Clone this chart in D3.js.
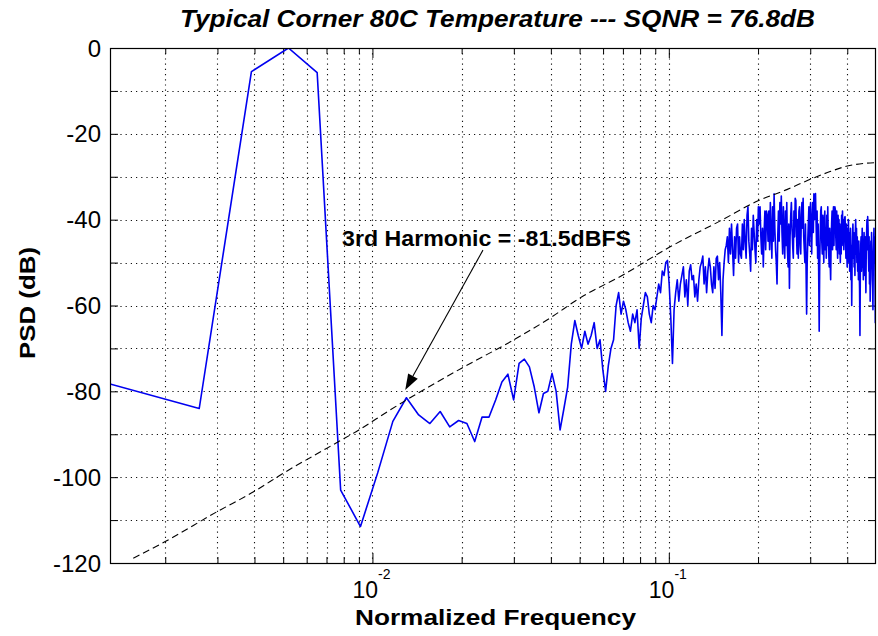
<!DOCTYPE html>
<html>
<head>
<meta charset="utf-8">
<script src="https://cdn.jsdelivr.net/npm/d3@7"></script>
<style>
body { margin: 0; background: #fff; }
text { font-family: "Liberation Sans", Arial, Helvetica, sans-serif; fill: #000; }
</style>
</head>
<body>
<svg id="chart" width="878" height="636"></svg>
<script>
// FFT bin spacing (normalized), first bin sits on the left axis edge
const binWidth = 1 / 768;

// PSD (dB) per bin, bins 1..384
const psdBins = [
  -78.3, -84, -5.5, 0, -5.75, -103, -111.5, -99, -87, -81.5,       // 1
  -85.5, -87.5, -84.7, -88.3, -86.8, -87.5, -91.7, -86, -86, -82,  // 11
  -77.8, -76, -82, -73.5, -72.5, -74.3, -79, -85, -80.5, -80,      // 21
  -75.8, -80, -89, -84, -79, -69, -63.5, -67, -70, -66,            // 31
  -69, -67, -64, -70, -68, -75, -80, -74, -70, -68,                // 41
  -60, -57, -62, -59, -61, -64, -66, -62, -64, -61,                // 51
  -70, -63, -60, -57, -58, -62, -64, -60, -61, -58,                // 61
  -55, -57, -52, -53, -50, -49.5, -55, -63, -73.5, -61,            // 71
  -57, -54, -59, -55, -53, -51, -58, -54, -60, -52,                // 81
  -50.5, -54, -53, -58, -55, -59, -54, -51, -50, -48.5,            // 91
  -55, -51, -57, -52, -49, -51, -55, -57, -51, -56,                // 101
  -49, -48.5, -54, -50, -57, -67, -54, -50, -47, -46,              // 111
  -44, -50, -42, -48, -41, -47, -53, -44, -49, -42,                // 121
  -41, -50, -44, -48, -49, -41, -47, -40, -45, -49,                // 131
  -39, -37, -45, -48, -52, -42, -47, -39, -43, -47,                // 141
  -50, -40, -45, -37, -41, -37, -44, -48, -42, -51,                // 151
  -43, -38, -47, -38, -39, -45, -38, -47, -36, -43,                // 161
  -49, -37, -45, -34, -42, -47, -50, -55, -44, -38,                // 171
  -45, -36, -41, -34.5, -43, -48, -37, -44, -49, -38,              // 181
  -46, -36, -47, -51, -41, -56, -44, -39, -36, -42,                // 191
  -46, -49, -38, -44, -35, -35.5, -43, -48, -40, -49,              // 201
  -38, -37, -46, -48, -39, -36, -42, -35, -44, -47,                // 211
  -50, -41, -51, -62, -50, -45, -41, -37, -46, -39,                // 221
  -36, -42, -48, -40, -36, -43, -34, -40, -35, -33.9,              // 231
  -40, -46, -38, -49, -41, -52, -66, -50, -43, -38,                // 241
  -37, -45, -48, -39, -46, -50, -40, -38, -47, -42,                // 251
  -49, -39, -46, -37, -44, -48, -51, -42, -50, -54,                // 261
  -45, -41, -38, -47, -40, -37, -46, -39, -37, -37.7,              // 271
  -44, -47, -38, -45, -49, -39, -46, -40, -48, -41,                // 281
  -50, -43, -48, -39, -46, -38, -44, -40, -47, -41,                // 291
  -39.5, -39.3, -45, -49, -41, -47, -51, -42, -48, -40,            // 301
  -50, -43, -52, -45, -42, -54, -46, -60, -49, -44,                // 311
  -41, -49, -43, -51, -45, -53, -43, -40, -48, -42,                // 321
  -50, -44, -52, -46, -54, -45, -51, -56, -67, -52,                // 331
  -46, -44, -52, -46, -42, -51, -45, -54, -47, -43,                // 341
  -48, -53, -44, -50, -57, -47, -43, -40, -47, -39.3,              // 351
  -42, -48, -52, -44, -55, -47, -59, -50, -45, -51,                // 361
  -43, -49, -54, -56, -61, -49, -45, -42, -50, -44,                // 371
  -52, -64, -48, -45                                               // 381
];

// dashed quantization-noise curve
const noiseCurveFreq = [0.00156, 0.002, 0.003, 0.004, 0.005, 0.007, 0.009, 0.0115, 0.02, 0.03,
                        0.04, 0.05, 0.07, 0.1, 0.15, 0.2, 0.25, 0.3, 0.35, 0.4, 0.5];
const noiseCurveDb   = [-118.9, -115, -108, -103.3, -99.1, -93.3, -89, -84.3, -74.6, -68,
                        -62.8, -58.3, -52.9, -46.5, -40.2, -35.6, -33, -30.6, -28.8, -27.5, -26.7];

const yLabelTicks = [0, -20, -40, -60, -80, -100, -120];
const yMinorTicks = [-10, -30, -50, -70, -90, -110];
const xMajorTicks = [0.01, 0.1];
const xMajorLabels = ["-2", "-1"];
const xMinorTicks = [0.002, 0.003, 0.004, 0.005, 0.006, 0.007, 0.008, 0.009,
                     0.02, 0.03, 0.04, 0.05, 0.06, 0.07, 0.08, 0.09,
                     0.2, 0.3, 0.4];

const titleText = "Typical Corner 80C Temperature --- SQNR = 76.8dB";
const xLabelText = "Normalized Frequency";
const yLabelText = "PSD (dB)";
const noteText = "3rd Harmonic = -81.5dBFS";
const notePos = [0.0079, -46.1];
const arrowFrom = [0.0236, -47.1];
const arrowTo = [0.0129, -79.7];

const svg = d3.select("#chart"),
      width = +svg.attr("width"),
      height = +svg.attr("height"),
      margin = {top: 48, right: 2, bottom: 73, left: 110};

const x = d3.scaleLog().domain([binWidth, 0.5]).range([margin.left, width - margin.right]);
const y = d3.scaleLinear().domain([-120, 0]).range([height - margin.bottom, margin.top]);

const x0 = margin.left, x1 = width - margin.right,
      y0 = margin.top, y1 = height - margin.bottom;

svg.append("defs").append("clipPath").attr("id", "plot")
    .append("rect").attr("x", x0).attr("y", y0).attr("width", x1 - x0).attr("height", y1 - y0);

// dotted grid
const grid = svg.append("g").attr("stroke", "#111").attr("stroke-width", 1.1)
    .attr("stroke-dasharray", "1.2,4");
grid.selectAll("line.v").data(xMajorTicks.concat(xMinorTicks)).join("line")
    .attr("x1", d => Math.round(x(d)) + 0.5).attr("x2", d => Math.round(x(d)) + 0.5)
    .attr("y1", y0).attr("y2", y1);
grid.selectAll("line.h").data(yLabelTicks.concat(yMinorTicks).filter(d => d > -120 && d < 0)).join("line")
    .attr("y1", d => Math.round(y(d)) + 0.5).attr("y2", d => Math.round(y(d)) + 0.5)
    .attr("x1", x0).attr("x2", x1);

// axes (ticks pointing inward)
function styleAxis(g) {
  g.select(".domain").remove();
  g.selectAll(".tick line").attr("stroke", "#000");
  g.selectAll(".tick text").remove();
}
svg.append("g").attr("transform", `translate(0,${y1})`)
    .call(d3.axisBottom(x).tickValues(xMajorTicks).tickSize(-10)).call(styleAxis);
svg.append("g").attr("transform", `translate(0,${y1})`)
    .call(d3.axisBottom(x).tickValues(xMinorTicks).tickSize(-6)).call(styleAxis);
svg.append("g").attr("transform", `translate(0,${y0})`)
    .call(d3.axisTop(x).tickValues(xMajorTicks).tickSize(-10)).call(styleAxis);
svg.append("g").attr("transform", `translate(0,${y0})`)
    .call(d3.axisTop(x).tickValues(xMinorTicks).tickSize(-6)).call(styleAxis);
svg.append("g").attr("transform", `translate(${x0},0)`)
    .call(d3.axisLeft(y).tickValues(yLabelTicks.concat(yMinorTicks)).tickSize(-8)).call(styleAxis);
svg.append("g").attr("transform", `translate(${x1},0)`)
    .call(d3.axisRight(y).tickValues(yLabelTicks.concat(yMinorTicks)).tickSize(-8)).call(styleAxis);

// y tick labels
svg.selectAll("text.ylab").data(yLabelTicks).join("text")
    .attr("x", x0 - 9).attr("y", d => y(d)).attr("dy", "0.36em")
    .attr("text-anchor", "end").style("font-size", "24px")
    .text(d => d);

// x tick labels 10^n
xMajorTicks.forEach((t, i) => {
  const lab = svg.append("text").attr("x", x(t) - 20).attr("y", y1 + 35)
      .style("font-size", "23px");
  lab.append("tspan").text("10");
  lab.append("tspan").attr("dy", "-19").style("font-size", "14px").text(xMajorLabels[i]);
});

// signal PSD
const psdLine = d3.line()
    .x((d, i) => x((i + 1) * binWidth))
    .y(d => y(d));
svg.append("path").datum(psdBins)
    .attr("clip-path", "url(#plot)")
    .attr("d", psdLine)
    .attr("fill", "none").attr("stroke", "#0000f0").attr("stroke-width", 1.6)
    .attr("stroke-linejoin", "round");

// dashed noise curve
const curveLine = d3.line()
    .x((d, i) => x(noiseCurveFreq[i]))
    .y(d => y(d))
    .curve(d3.curveMonotoneX);
svg.append("path").datum(noiseCurveDb)
    .attr("clip-path", "url(#plot)")
    .attr("d", curveLine)
    .attr("fill", "none").attr("stroke", "#000").attr("stroke-width", 1.1)
    .attr("stroke-dasharray", "7,4");

// box
svg.append("rect").attr("x", x0 + 0.5).attr("y", y0 + 0.5)
    .attr("width", x1 - x0 - 1).attr("height", y1 - y0)
    .attr("fill", "none").attr("stroke", "#000").attr("stroke-width", 1.2);

// annotation + arrow
svg.append("text").attr("x", x(notePos[0])).attr("y", y(notePos[1]))
    .attr("textLength", 289).attr("lengthAdjust", "spacingAndGlyphs")
    .style("font-size", "22px").style("font-weight", "bold").text(noteText);
const ax1 = x(arrowFrom[0]), ay1 = y(arrowFrom[1]),
      ax2 = x(arrowTo[0]), ay2 = y(arrowTo[1]);
const ang = Math.atan2(ay2 - ay1, ax2 - ax1), headLen = 16, headW = 5.5;
const bx = ax2 - headLen * Math.cos(ang), by = ay2 - headLen * Math.sin(ang);
svg.append("line").attr("x1", ax1).attr("y1", ay1).attr("x2", bx).attr("y2", by)
    .attr("stroke", "#000").attr("stroke-width", 1.1);
svg.append("path")
    .attr("d", `M${ax2},${ay2}L${bx + headW * Math.sin(ang)},${by - headW * Math.cos(ang)}` +
               `L${bx - headW * Math.sin(ang)},${by + headW * Math.cos(ang)}Z`)
    .attr("fill", "#000");

// title and axis labels
svg.append("text").attr("x", 180).attr("y", 27)
    .attr("textLength", 635).attr("lengthAdjust", "spacingAndGlyphs")
    .style("font-size", "23px").style("font-weight", "bold").style("font-style", "italic")
    .text(titleText);
svg.append("text").attr("x", 355).attr("y", 625)
    .attr("textLength", 281).attr("lengthAdjust", "spacingAndGlyphs")
    .style("font-size", "22px").style("font-weight", "bold")
    .text(xLabelText);
svg.append("text").attr("transform", `translate(35,359) rotate(-90)`)
    .attr("textLength", 112).attr("lengthAdjust", "spacingAndGlyphs")
    .style("font-size", "22px").style("font-weight", "bold")
    .text(yLabelText);
</script>
</body>
</html>
